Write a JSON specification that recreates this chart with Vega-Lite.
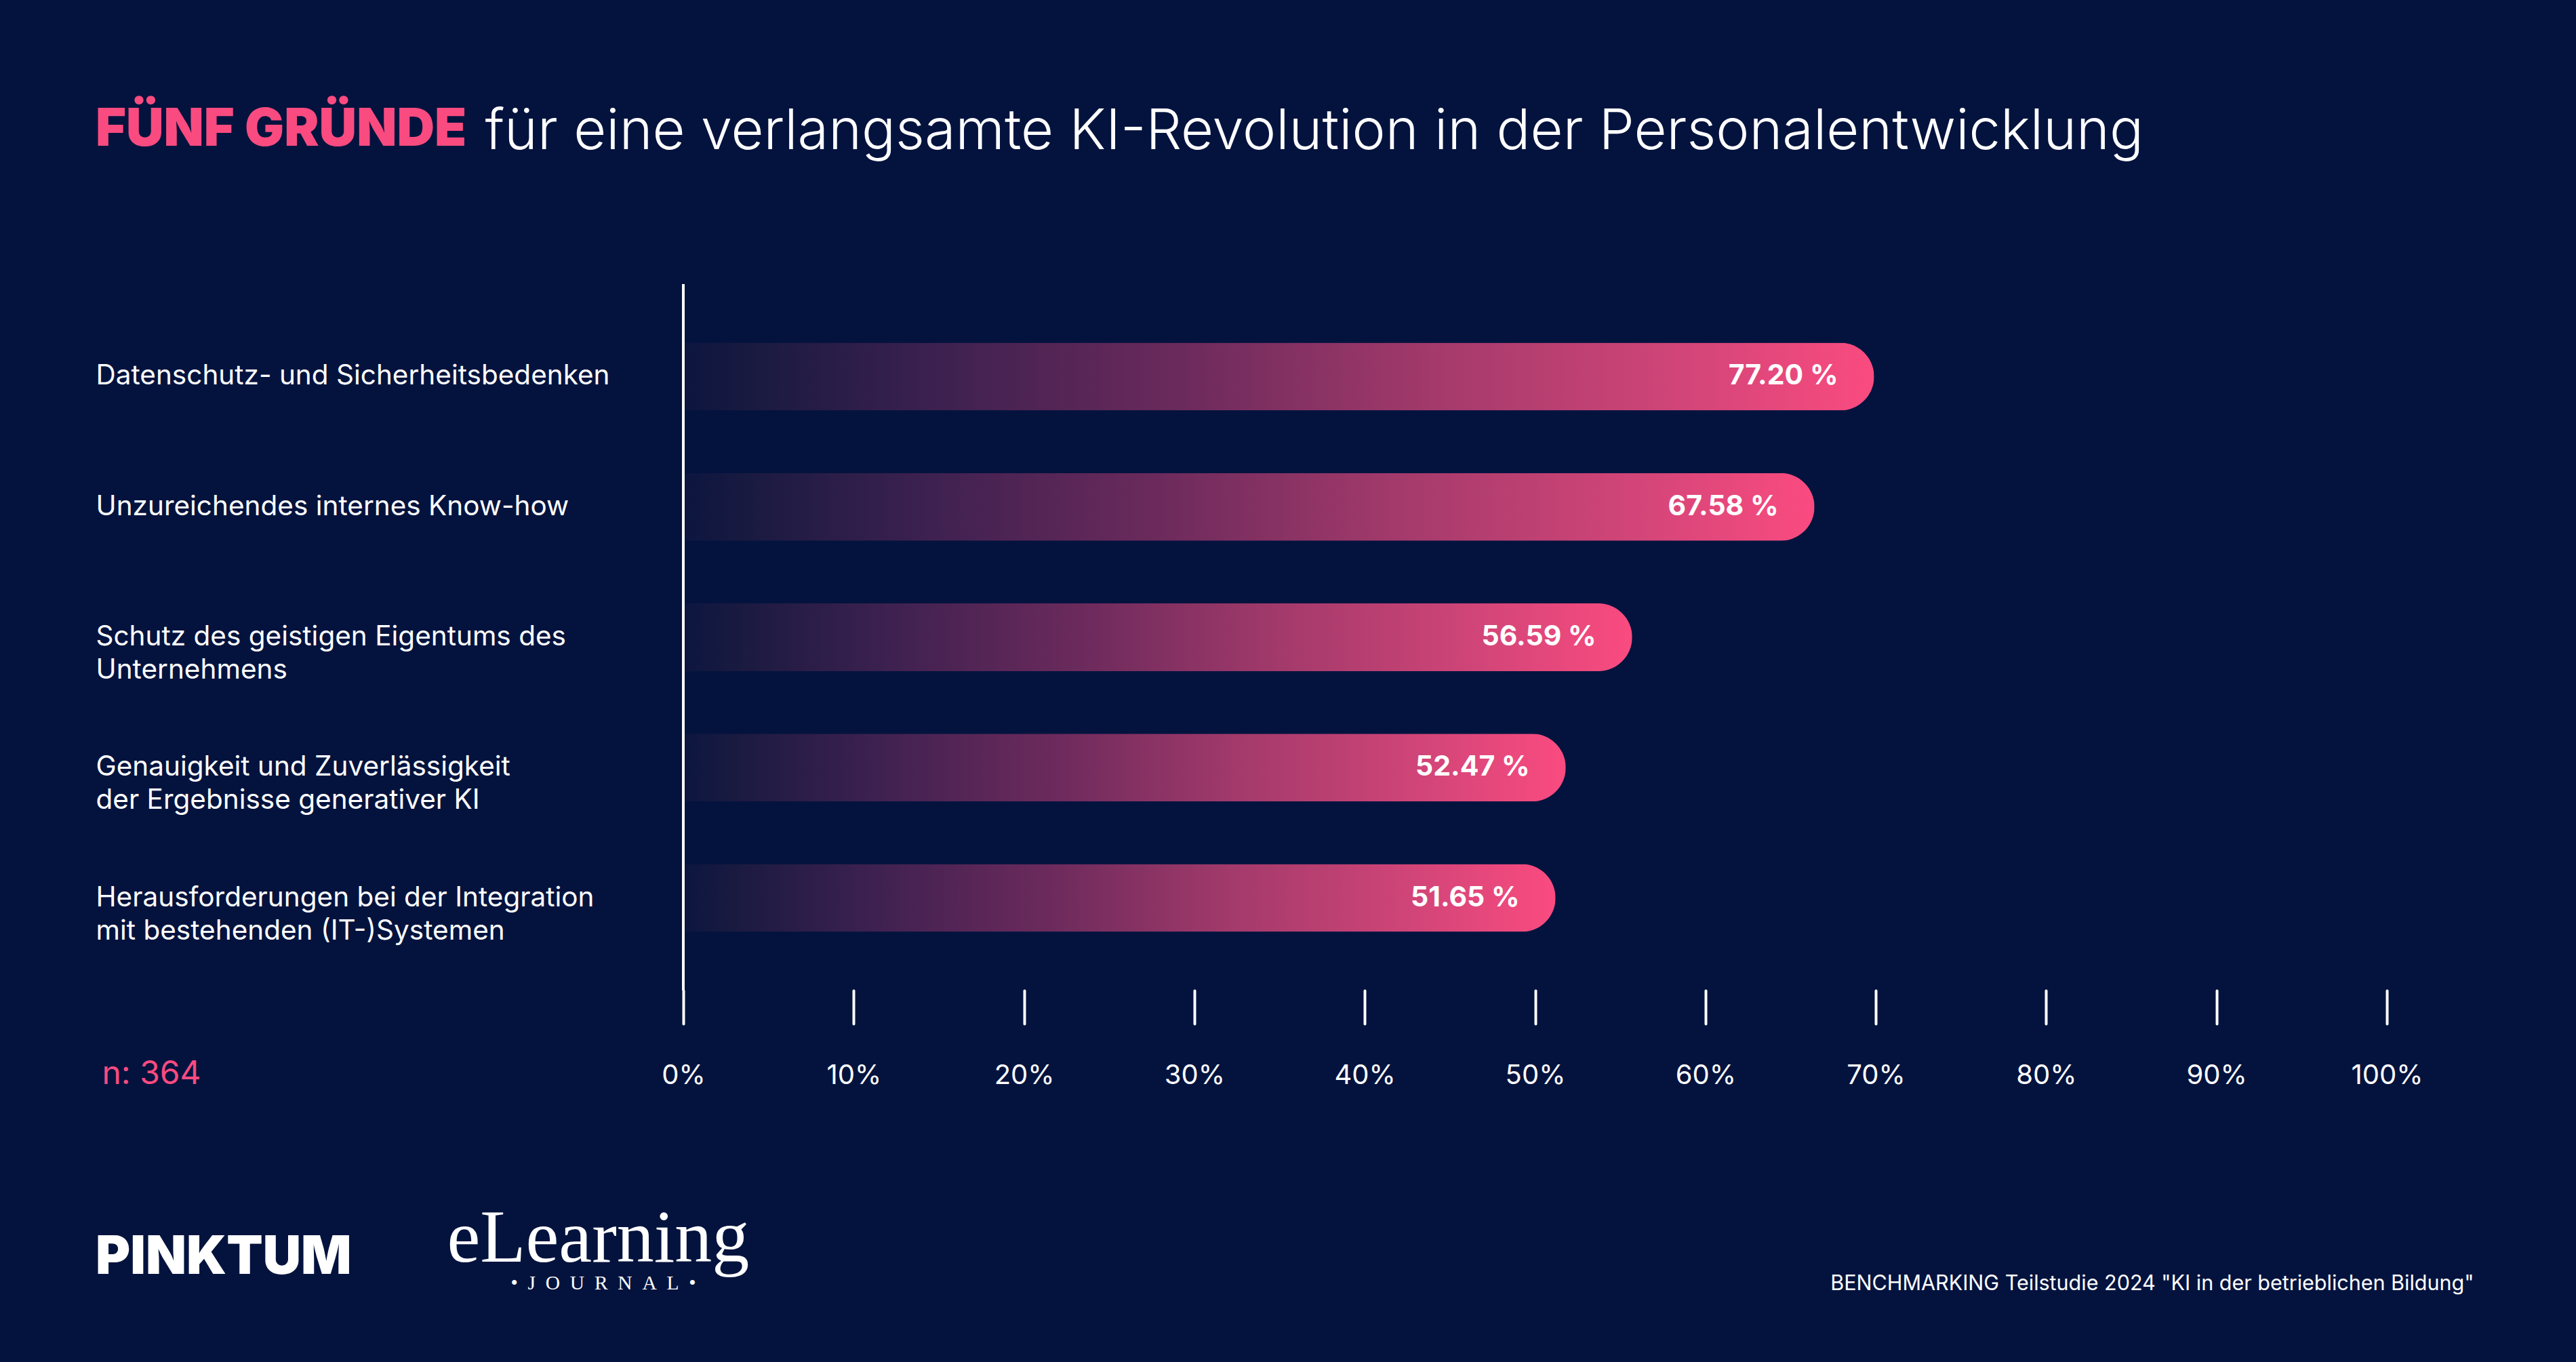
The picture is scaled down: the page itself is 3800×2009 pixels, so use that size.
{
  "$schema": "https://vega.github.io/schema/vega-lite/v6.json",
  "width": 2513,
  "height": 1042,
  "autosize": {"type": "none"},
  "padding": {"left": 1008, "top": 419, "right": 279, "bottom": 548},
  "background": "#04133e",
  "config": {"view": {"stroke": null}, "font": "Inter"},
  "title": {
    "text": "FÜNF GRÜNDE",
    "subtitle": "PINKTUM",
    "anchor": "start",
    "frame": "group",
    "orient": "top",
    "dx": -867,
    "dy": 1804,
    "offset": 0,
    "baseline": "alphabetic",
    "font": "Inter",
    "fontSize": 77,
    "fontWeight": 900,
    "color": "#f94b80",
    "subtitleFont": "Inter",
    "subtitleFontSize": 78,
    "subtitleFontWeight": 900,
    "subtitleColor": "#ffffff",
    "subtitlePadding": 1587
  },
  "data": {
    "values": [
      {"reason": "Datenschutz- und Sicherheitsbedenken", "bar": 69.9, "label": "77.20 %"},
      {"reason": "Unzureichendes internes Know-how", "bar": 66.4, "label": "67.58 %"},
      {"reason": "Schutz des geistigen Eigentums des\nUnternehmens", "bar": 55.7, "label": "56.59 %"},
      {"reason": "Genauigkeit und Zuverlässigkeit\nder Ergebnisse generativer KI", "bar": 51.8, "label": "52.47 %"},
      {"reason": "Herausforderungen bei der Integration\nmit bestehenden (IT-)Systemen", "bar": 51.2, "label": "51.65 %"}
    ]
  },
  "resolve": {"axis": {"x": "independent", "y": "independent"}},
  "layer": [
    {
      "mark": {
        "type": "bar",
        "cornerRadiusEnd": 50,
        "color": {
          "gradient": "linear",
          "x1": 0, "x2": 1, "y1": 0, "y2": 0,
          "stops": [
            {"offset": 0, "color": "#0c1640"},
            {"offset": 0.06, "color": "#1a1a40"},
            {"offset": 0.22, "color": "#3e2150"},
            {"offset": 0.42, "color": "#6c2a5c"},
            {"offset": 0.63, "color": "#a33a6b"},
            {"offset": 0.84, "color": "#d24578"},
            {"offset": 1, "color": "#fa4b80"}
          ]
        }
      },
      "encoding": {
        "x": {
          "field": "bar",
          "type": "quantitative",
          "scale": {"domain": [0, 100], "nice": false, "zero": true},
          "axis": {
            "orient": "bottom",
            "values": [0, 10, 20, 30, 40, 50, 60, 70, 80, 90, 100],
            "labelExpr": "datum.value + '%'",
            "grid": false,
            "domain": false,
            "ticks": true,
            "tickSize": 49,
            "tickWidth": 4,
            "tickCap": "round",
            "tickColor": "#ffffff",
            "labelColor": "#ffffff",
            "labelFont": "Inter",
            "labelFontSize": 40,
            "labelBaseline": "alphabetic",
            "labelPadding": 88,
            "labelFlush": false,
            "labelOverlap": false,
            "title": "n: 364",
            "titleColor": "#f94b80",
            "titleFont": "Inter",
            "titleFontSize": 48,
            "titleFontWeight": "normal",
            "titleAlign": "left",
            "titleAnchor": "start",
            "titleBaseline": "alphabetic",
            "titleX": -858,
            "titleY": 137
          }
        },
        "y": {
          "field": "reason",
          "type": "nominal",
          "sort": null,
          "scale": {"paddingInner": 0.48, "paddingOuter": 0.45},
          "axis": {
            "orient": "left",
            "domain": false,
            "ticks": false,
            "tickSize": 0,
            "grid": false,
            "labelExpr": "split(datum.label, '\\n')",
            "labelAlign": "left",
            "labelBaseline": "middle",
            "labelPadding": 867,
            "labelLimit": 0,
            "labelLineHeight": 49,
            "labelColor": "#ffffff",
            "labelFont": "Inter",
            "labelFontSize": 40.5,
            "title": "für eine verlangsamte KI-Revolution in der Personalentwicklung",
            "titleAngle": 0,
            "titleAlign": "left",
            "titleAnchor": "start",
            "titleBaseline": "alphabetic",
            "titleX": -293,
            "titleY": -200,
            "titleColor": "#ffffff",
            "titleFont": "Inter",
            "titleFontSize": 83,
            "titleFontWeight": 300
          }
        }
      }
    },
    {
      "mark": {
        "type": "text",
        "align": "right",
        "baseline": "middle",
        "dx": -53,
        "font": "Inter",
        "fontSize": 41,
        "fontWeight": 700,
        "color": "#ffffff"
      },
      "encoding": {
        "x": {
          "field": "bar",
          "type": "quantitative",
          "axis": {
            "orient": "top",
            "labels": false,
            "ticks": false,
            "domain": false,
            "grid": false,
            "title": "eLearning",
            "titleAlign": "left",
            "titleAnchor": "start",
            "titleBaseline": "alphabetic",
            "titleX": -349,
            "titleY": 1441,
            "titleColor": "#ffffff",
            "titleFont": "Liberation Serif",
            "titleFontSize": 110,
            "titleFontWeight": "normal"
          }
        },
        "y": {
          "field": "reason",
          "type": "nominal",
          "sort": null,
          "axis": {
            "orient": "right",
            "labels": false,
            "ticks": false,
            "domain": false,
            "grid": false,
            "title": "BENCHMARKING Teilstudie 2024 \"KI in der betrieblichen Bildung\"",
            "titleAngle": 0,
            "titleAlign": "right",
            "titleAnchor": "start",
            "titleBaseline": "alphabetic",
            "titleX": 128,
            "titleY": 1483,
            "titleColor": "#ffffff",
            "titleFont": "Inter",
            "titleFontSize": 30.5,
            "titleFontWeight": "normal"
          }
        },
        "text": {"field": "label", "type": "nominal"}
      }
    },
    {
      "data": {"values": [{"baseline": 0}]},
      "mark": {"type": "rule", "color": "#ffffff", "strokeWidth": 4},
      "encoding": {
        "x": {
          "field": "baseline",
          "type": "quantitative",
          "axis": {
            "orient": "bottom",
            "labels": false,
            "ticks": false,
            "domain": false,
            "grid": false,
            "title": "•\u2002J\u2002O\u2002U\u2002R\u2002N\u2002A\u2002L\u2002•",
            "titleAlign": "left",
            "titleAnchor": "start",
            "titleBaseline": "alphabetic",
            "titleX": -255,
            "titleY": 440,
            "titleColor": "#ffffff",
            "titleFont": "Liberation Serif",
            "titleFontSize": 29.5,
            "titleFontWeight": "normal"
          }
        }
      }
    }
  ]
}
